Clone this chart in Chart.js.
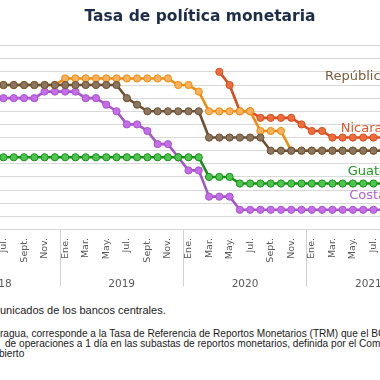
<!DOCTYPE html>
<html><head><meta charset="utf-8">
<script src="https://cdn.jsdelivr.net/npm/chart.js@4.4.1/dist/chart.umd.min.js"></script>
<style>
html,body{margin:0;padding:0;width:380px;height:380px;overflow:hidden;background:#fff}
body{position:relative}
#wrap{position:absolute;left:-70px;top:0;width:510px;height:300px}
#title{position:absolute;left:0;top:7px;width:400px;text-align:center;font:bold 15.5px "DejaVu Sans";color:#1d2c49;white-space:nowrap}
.note{position:absolute;white-space:nowrap;font-family:"Liberation Sans",Arial,sans-serif;color:#1a1a1a}
</style></head><body>
<div id="wrap"><canvas id="c"></canvas></div>
<div id="title">Tasa de política monetaria</div>
<div class="note" style="left:0;top:304px;font-size:11px">unicados de los bancos centrales.</div>
<div class="note" style="left:0;top:328px;font-size:10.1px">ragua, corresponde a la Tasa de Referencia de Reportos Monetarios (TRM) que el BCN</div>
<div class="note" style="left:5px;top:338px;font-size:10.1px">de operaciones a 1 día en las subastas de reportos monetarios, definida por el Comité</div>
<div class="note" style="left:-1px;top:348px;font-size:10.1px">bierto</div>
<script>
// Categories: Jan 2018 .. Dec 2021 (monthly)
const monthNames = ["Ene.","Feb.","Mar.","Abr.","May.","Jun.","Jul.","Ago.","Sept.","Oct.","Nov.","Dic."];
const years = ["2018","2019","2020","2021"];
const N = null;
// República Dominicana
const repDominicana = [N,N,N,N,N,5.5, 5.5,5.5,5.5,5.5,5.5,5.5,
  5.5,5.5,5.5,5.5,5.5,5.5, 5.0,4.75,4.5,4.5,4.5,4.5,
  4.5,4.5,3.5,3.5,3.5,3.5, 3.5,3.5,3.0,3.0,3.0,3.0,
  3.0,3.0,3.0,3.0,3.0,3.0, 3.0,3.0,N,N,N,N];
// Honduras
const honduras = [N,N,N,N,N,5.5, 5.5,5.5,5.5,5.5,5.5,5.5,
  5.75,5.75,5.75,5.75,5.75,5.75, 5.75,5.75,5.75,5.75,5.75,5.5,
  5.5,5.25,4.5,4.5,4.5,4.5, 4.5,3.75,3.75,3.75,3.0,3.0,
  3.0,3.0,3.0,3.0,3.0,3.0, 3.0,3.0,N,N,N,N];
// Nicaragua
const nicaragua = [N,N,N,N,N,N, N,N,N,N,N,N,
  N,N,N,N,N,N, N,N,N,N,N,N,
  N,N,N,6.0,5.5,4.5, 4.5,4.25,4.25,4.25,4.25,4.0,
  3.75,3.75,3.5,3.5,3.5,3.5, 3.5,3.5,N,N,N,N];
// Guatemala
const guatemala = [N,N,N,N,N,2.75, 2.75,2.75,2.75,2.75,2.75,2.75,
  2.75,2.75,2.75,2.75,2.75,2.75, 2.75,2.75,2.75,2.75,2.75,2.75,
  2.75,2.75,2.0,2.0,2.0,1.75, 1.75,1.75,1.75,1.75,1.75,1.75,
  1.75,1.75,1.75,1.75,1.75,1.75, 1.75,1.75,N,N,N,N];
// Costa Rica
const costaRica = [N,N,N,N,N,5.0, 5.0,5.0,5.0,5.0,5.25,5.25,
  5.25,5.25,5.0,5.0,4.75,4.5, 4.0,4.0,3.75,3.25,3.25,2.75,
  2.25,2.25,1.25,1.25,1.25,0.75, 0.75,0.75,0.75,0.75,0.75,0.75,
  0.75,0.75,0.75,0.75,0.75,0.75, 0.75,0.75,N,N,N,N];
const yTicks = {min:0, max:7, step:0.5};

const labels = [];
years.forEach(yr => monthNames.forEach(m => labels.push(m + " " + yr)));

const seriesLabels = [
  {text:"República Dominicana", at:37.28, v:5.82, color:"#7a5d3d"},
  {text:"Nicaragua", at:38.81, v:3.85, color:"#e0552a"},
  {text:"Guatemala", at:39.49, v:2.2, color:"#1f9a1f"},
  {text:"Costa Rica", at:39.64, v:1.28, color:"#b25fd6"}
];
const labelPlugin = {
  id:'seriesLabels',
  afterDatasetsDraw(chart){
    const {ctx, scales:{x,y}} = chart;
    ctx.save();
    ctx.font = '13px "DejaVu Sans"';
    ctx.textAlign = 'left';
    ctx.textBaseline = 'middle';
    seriesLabels.forEach(l => {
      ctx.fillStyle = l.color;
      ctx.fillText(l.text, x.getPixelForValue(l.at), y.getPixelForValue(l.v));
    });
    ctx.restore();
  }
};

function ds(label, data, line, fill){
  return {label, data, borderColor:line, backgroundColor:fill, borderWidth:2.6,
    pointRadius:3.6, pointBorderWidth:1, pointBackgroundColor:fill, pointBorderColor:line,
    tension:0, fill:false, spanGaps:false};
}

new Chart(document.getElementById('c'), {
  type:'line',
  data:{
    labels,
    datasets:[
      ds("República Dominicana", repDominicana, "#6b4f30", "#8c7660"),
      ds("Honduras", honduras, "#f08c0a", "#f8b160"),
      ds("Nicaragua", nicaragua, "#d84e1c", "#ee6c3e"),
      ds("Guatemala", guatemala, "#168f16", "#4ec54e"),
      ds("Costa Rica", costaRica, "#a556c8", "#c76bea")
    ]
  },
  options:{
    responsive:true, maintainAspectRatio:false, animation:false, devicePixelRatio:1,
    layout:{padding:{left:6.7, right:10, top:45.6, bottom:9.5}},
    plugins:{legend:{display:false}, title:{display:false}, tooltip:{enabled:false}},
    scales:{
      y:{
        min:yTicks.min, max:yTicks.max,
        ticks:{display:false, stepSize:yTicks.step},
        grid:{color:"#d9d9d9", lineWidth:1, drawTicks:false},
        border:{display:false},
        afterFit:s=>{s.width=0;}
      },
      x:{
        type:'category', weight:0,
        offset:true,
        grid:{display:true, drawOnChartArea:false, drawTicks:true, offset:true, tickLength:57,
          color:c=> (c.index % 12 === 0 ? "#d0d0d0" : "rgba(0,0,0,0)"),
          tickColor:c=> (c.index % 12 === 0 ? "#d0d0d0" : "rgba(0,0,0,0)"), lineWidth:1},
        border:{display:false},
        ticks:{autoSkip:false, minRotation:90, maxRotation:90, padding:-48.5,
          color:"#595959", font:{family:"DejaVu Sans", size:9.5},
          callback:(v,i)=> (i % 2 === 0 ? monthNames[i % 12] : "")},
        afterFit:s=>{s.height=33;}
      },
      x2:{
        type:'linear', position:'bottom', weight:1,
        min:-0.5, max:labels.length-0.5,
        grid:{display:false}, border:{display:false},
        afterBuildTicks:s=>{ s.ticks = years.map((yr,i)=>({value:i*12+5.5})); },
        ticks:{autoSkip:false, maxRotation:0, padding:7, color:"#595959",
          font:{family:"DejaVu Sans", size:10.5},
          callback:(v,i)=> years[i]},
        afterFit:s=>{s.height=28;}
      }
    }
  },
  plugins:[labelPlugin]
});
</script>
</body></html>
